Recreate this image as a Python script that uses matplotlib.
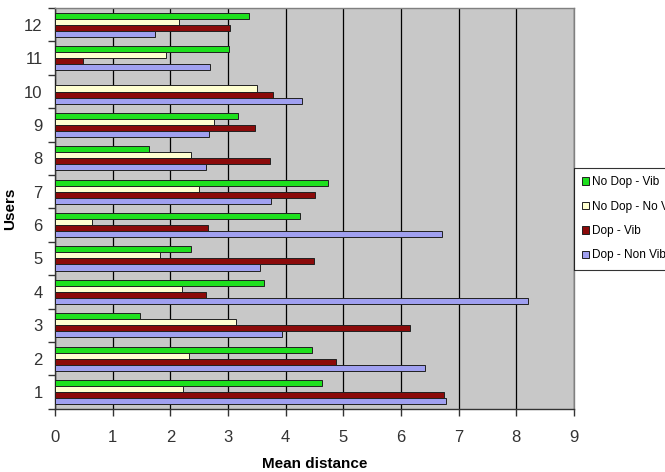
#!/usr/bin/env python3
# -*- coding: utf-8 -*-
"""
Mean distance per user, four conditions (horizontal grouped bars)
"""

import numpy as np
import matplotlib
matplotlib.use('Agg')
import matplotlib.pyplot as plt
from matplotlib.patches import Patch

plt.rcParams['font.family'] = ['Liberation Sans', 'DejaVu Sans']

# 数据
users = ['1', '2', '3', '4', '5', '6', '7', '8', '9', '10', '11', '12']
no_dop_vib = [4.63, 4.45, 1.47, 3.62, 2.36, 4.25, 4.74, 1.63, 3.17, 0.0, 3.02, 3.36]
no_dop_no_vib = [2.21, 2.33, 3.13, 2.20, 1.81, 0.63, 2.50, 2.36, 2.75, 3.51, 1.92, 2.15]
dop_vib = [6.75, 4.88, 6.16, 2.61, 4.49, 2.66, 4.50, 3.73, 3.47, 3.78, 0.49, 3.04]
dop_non_vib = [6.78, 6.41, 3.93, 8.21, 3.55, 6.71, 3.75, 2.61, 2.67, 4.28, 2.69, 1.73]

series = [
    ('No Dop - Vib', no_dop_vib, '#1EE01E'),
    ('No Dop - No Vib', no_dop_no_vib, '#FFFFD0'),
    ('Dop - Vib', dop_vib, '#8B0A0A'),
    ('Dop - Non Vib', dop_non_vib, '#A0A0F0'),
]


def main():
    fig = plt.figure(figsize=(6.65, 4.72), dpi=100)
    ax = fig.add_axes([0.083, 0.134, 0.78, 0.849])
    ax.set_facecolor('#C8C8C8')

    y = np.arange(1, len(users) + 1)
    h = 0.18
    offsets = [1.5 * h, 0.5 * h, -0.5 * h, -1.5 * h]

    for (label, vals, color), off in zip(series, offsets):
        ax.barh(y + off, vals, height=h, color=color, edgecolor='#202020',
                linewidth=0.7, label=label, zorder=3)

    ax.set_xlim(0, 9)
    ax.set_ylim(0.5, 12.5)
    ax.set_xticks(range(0, 10))
    ax.set_yticks(y)
    ax.set_yticklabels(users)
    ax.set_yticks(np.arange(0.5, 12.6, 1), minor=True)

    # 竖直网格线
    ax.grid(axis='x', color='black', linewidth=0.9, zorder=1)
    ax.set_axisbelow(True)

    ax.tick_params(axis='y', which='major', length=0, pad=9, labelsize=12, labelcolor='#333333')
    ax.tick_params(axis='y', which='minor', length=5, width=1, color='#333333')
    ax.tick_params(axis='x', which='major', length=5, width=1, pad=10, labelsize=12,
                   labelcolor='#333333', color='#333333')

    for s in ['left', 'bottom']:
        ax.spines[s].set_color('#333333')
        ax.spines[s].set_linewidth(1.0)
    for s in ['top', 'right']:
        ax.spines[s].set_color('#808080')
        ax.spines[s].set_linewidth(1.0)

    ax.set_xlabel('Mean distance', fontsize=11, fontweight='bold', labelpad=9)
    ax.set_ylabel('Users', fontsize=11, fontweight='bold', labelpad=5)

    # 图例（右侧，超出画布的部分被裁掉，与原图一致）
    handles = [Patch(facecolor=c, edgecolor='#202020', linewidth=0.7) for _, _, c in series]
    labels = [s[0] for s in series]
    leg = fig.legend(handles, labels, loc='upper left', bbox_to_anchor=(0.863, 0.644),
                     borderaxespad=0, frameon=True, fancybox=False, handlelength=0.6,
                     handleheight=0.6, handletextpad=0.25, labelspacing=1.05,
                     borderpad=0.7, prop={'size': 8.5})
    leg.get_frame().set_edgecolor('black')
    leg.get_frame().set_linewidth(0.8)

    fig.savefig('out.png', dpi=100)


if __name__ == "__main__":
    main()
